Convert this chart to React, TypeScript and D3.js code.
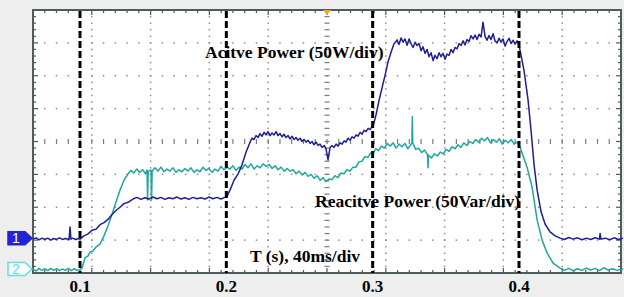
import React, { useEffect, useRef } from 'react';
import * as d3 from 'd3';

// time in ms, level in screen divisions (0 = bottom of the scope grid, 8 = top)
const activePower: [number, number][] = [
  [68, 1.03], [70, 1.07], [72, 1.01], [74, 1.06], [76, 1.02], [78, 1.06], [80, 1.0], [82, 1.05],
  [84, 1.02], [86, 1.07], [88, 1.02], [90, 1.05], [92.5, 1.02], [93.2, 1.4], [93.8, 1.03], [95, 1.06],
  [97, 1.02], [99, 1.05], [100, 1.03], [102.7, 1.13], [105.5, 1.19], [108.2, 1.3], [110.9, 1.33],
  [113.7, 1.47], [116.4, 1.53], [119.1, 1.63], [121.9, 1.78], [124.6, 1.9], [127.3, 2.0], [130.1, 2.11],
  [132.8, 2.15], [136.2, 2.25], [138.9, 2.3], [141.6, 2.24], [144.4, 2.29], [147.1, 2.25], [149.8, 2.31],
  [152.6, 2.26], [155.3, 2.3], [158, 2.24], [160.8, 2.29], [163.5, 2.26], [166.2, 2.31], [169, 2.25],
  [171.7, 2.29], [174.4, 2.24], [177.2, 2.3], [179.9, 2.26], [182.6, 2.29], [185.4, 2.25], [188.1, 2.31],
  [190.8, 2.26], [193.6, 2.3], [196.3, 2.25], [199, 2.3], [200.5, 2.34], [202.5, 2.52], [205.3, 2.83],
  [208, 3.01], [210.7, 3.29], [213.5, 3.68], [216.2, 3.98], [217.6, 4.1], [218.9, 4.06], [220.3, 4.18],
  [221.7, 4.12], [223, 4.24], [224.4, 4.16], [225.8, 4.28], [227.1, 4.2], [228.5, 4.3], [229.9, 4.18],
  [231.2, 4.26], [232.6, 4.2], [234, 4.3], [235.3, 4.18], [236.7, 4.24], [238.1, 4.14], [239.4, 4.22],
  [240.8, 4.12], [242.2, 4.18], [243.5, 4.08], [244.9, 4.16], [246.3, 4.06], [247.6, 4.12], [249, 4.04],
  [250.4, 4.1], [251.7, 4.0], [253.1, 4.06], [254.5, 3.98], [255.8, 4.04], [257.2, 3.94], [258.6, 4.0],
  [259.9, 3.9], [261.3, 3.98], [262.7, 3.88], [264, 3.92], [265.4, 3.82], [266.8, 3.88], [268.1, 3.78],
  [269.5, 3.44], [270.9, 3.82], [272.2, 3.88], [273.6, 3.82], [275, 3.92], [276.4, 3.86], [277.7, 3.96],
  [279.1, 3.92], [280.5, 4.02], [281.8, 3.98], [283.2, 4.1], [284.6, 4.04], [285.9, 4.14], [287.3, 4.1],
  [288.7, 4.2], [290, 4.16], [291.4, 4.28], [292.8, 4.22], [294.1, 4.34], [295.5, 4.3], [296.9, 4.4],
  [298.2, 4.36], [299.6, 4.46], [300.3, 4.47], [302.3, 4.81], [304.4, 5.26], [306.4, 5.63], [308.5, 6.02],
  [310.5, 6.42], [312.6, 6.72], [314.6, 6.97], [316.7, 7.09], [318, 6.95], [319.4, 7.15], [320.8, 7.02],
  [322.1, 7.12], [323.5, 6.93], [324.9, 7.12], [326.2, 6.98], [327.6, 6.86], [329, 7.02], [330.3, 6.92],
  [331.7, 6.98], [333.1, 6.76], [334.4, 6.88], [335.8, 6.68], [337.2, 6.8], [338.5, 6.58], [339.9, 6.7],
  [341.3, 6.46], [342.6, 6.62], [344, 6.52], [345.4, 6.7], [346.7, 6.58], [348.1, 6.68], [349.5, 6.5],
  [350.8, 6.66], [352.2, 6.62], [353.6, 6.8], [354.9, 6.7], [356.3, 6.86], [357.7, 6.82], [359, 6.98],
  [360.4, 6.92], [361.8, 7.06], [363.1, 6.94], [364.5, 7.1], [365.9, 7.04], [367.2, 7.22], [368.6, 7.12],
  [370, 7.24], [371.3, 7.1], [372.7, 7.26], [374.1, 7.18], [375.4, 7.63], [376.8, 7.2], [378.1, 7.08],
  [379.5, 7.22], [380.9, 7.1], [382.3, 7.28], [383.6, 7.06], [385, 7.0], [386.4, 7.14], [387.7, 7.02],
  [389.1, 7.12], [390.5, 6.9], [391.8, 7.04], [393.2, 7.14], [394.6, 6.98], [396, 7.08], [397.3, 6.96],
  [398.7, 7.06], [400, 6.92], [400.7, 6.78], [403.4, 6.17], [406.2, 5.26], [408.2, 4.35], [410.3, 3.29],
  [412.4, 2.52], [415.1, 1.86], [417.8, 1.49], [421.2, 1.25], [424.7, 1.13], [428.1, 1.06], [431, 1.02],
  [434, 1.08], [437, 1.03], [440, 1.07], [443, 1.01], [446, 1.06], [449, 1.02], [452, 1.07], [455, 1.03],
  [455.4, 1.2], [456, 1.03], [459, 1.06], [462, 1.01], [465, 1.07], [468, 1.02], [471.1, 1.06],
];

const reactivePower: [number, number][] = [
  [68, 0.12], [70, 0.06], [72, 0.14], [74, 0.08], [76, 0.13], [78, 0.07], [80, 0.14], [82, 0.08],
  [84, 0.13], [86, 0.07], [88, 0.12], [90, 0.08], [92, 0.14], [94, 0.07], [96, 0.13], [98, 0.08],
  [100, 0.1], [101.4, 0.15], [103.4, 0.46], [105.5, 0.52], [106.8, 0.64], [108.9, 0.67], [110.9, 0.79],
  [113.7, 0.88], [116.4, 1.13], [119.1, 1.43], [121.9, 1.79], [124.6, 2.16], [127.3, 2.52], [130.1, 2.83],
  [132.8, 3.01], [134.8, 3.12], [136.8, 3.04], [138.8, 3.16], [140.8, 3.06], [142.8, 3.14], [144.8, 3.02],
  [145.8, 3.13], [146.2, 2.22], [146.6, 3.1], [148.5, 3.13], [148.9, 2.22], [149.3, 3.1], [151.3, 3.2],
  [153.3, 3.1], [155.3, 3.22], [157.4, 3.08], [159.4, 3.16], [161.5, 3.1], [163.5, 3.2], [165.6, 3.06],
  [167.6, 3.14], [169.7, 3.08], [171.7, 3.18], [173.8, 3.1], [175.8, 3.2], [177.9, 3.06], [179.9, 3.14],
  [182, 3.08], [184, 3.22], [186.1, 3.12], [188.1, 3.18], [190.2, 3.06], [192.2, 3.16], [194.3, 3.1],
  [196.3, 3.24], [198.4, 3.14], [200.4, 3.22], [202.5, 3.16], [204.5, 3.26], [206.6, 3.12], [208.6, 3.22],
  [210.7, 3.16], [212.7, 3.3], [214.8, 3.2], [216.8, 3.32], [219, 3.16], [221, 3.26], [223.1, 3.2],
  [225.1, 3.32], [227.2, 3.24], [229.2, 3.3], [231.3, 3.18], [233.3, 3.26], [235.4, 3.14], [237.4, 3.22],
  [239.5, 3.1], [241.5, 3.18], [243.6, 3.1], [245.6, 3.14], [247.7, 3.02], [249.7, 3.1], [251.8, 2.98],
  [253.8, 3.06], [255.9, 2.94], [257.9, 3.0], [260, 2.88], [262, 2.96], [264.1, 2.82], [266.1, 2.9],
  [268.1, 2.78], [270.1, 2.86], [272.2, 2.84], [274.2, 2.96], [276.3, 2.9], [278.3, 3.04], [280.4, 3.02],
  [282.4, 3.14], [284.5, 3.1], [286.5, 3.22], [288.6, 3.22], [290.6, 3.38], [292.7, 3.4], [294.7, 3.54],
  [296.8, 3.52], [298.8, 3.66], [300.3, 3.64], [302, 3.78], [304, 3.72], [306, 3.86], [308, 3.8],
  [310, 3.94], [312, 3.86], [314, 3.96], [316, 3.8], [318, 3.92], [320, 3.84], [322, 3.94], [324, 3.78],
  [326, 3.9], [326.8, 3.95], [327.1, 4.75], [327.4, 3.95], [329.4, 3.76], [331.4, 3.8], [333.4, 3.66],
  [335.5, 3.74], [337.5, 3.59], [337.8, 3.2], [338.1, 3.59], [340.1, 3.5], [342.1, 3.62], [344.2, 3.56],
  [346.2, 3.68], [348.2, 3.62], [350.2, 3.76], [352.2, 3.7], [354.3, 3.84], [356.3, 3.78], [358.3, 3.9],
  [360.3, 3.82], [362.3, 3.96], [364.4, 3.88], [366.4, 4.0], [368.4, 3.94], [370.4, 4.06], [372.4, 3.98],
  [374.5, 4.1], [376.5, 4.02], [378.5, 4.12], [380.5, 3.96], [382.5, 4.06], [384.6, 3.98], [386.6, 4.08],
  [388.6, 3.92], [390.6, 4.04], [392.6, 3.96], [394.7, 4.06], [396.7, 3.92], [398.7, 3.98], [400.7, 3.83],
  [405.5, 3.22], [408.9, 2.62], [412.4, 1.61], [415.8, 1.0], [419.2, 0.61], [423.3, 0.3], [428.1, 0.15],
  [431, 0.08], [434, 0.14], [437, 0.07], [440, 0.13], [443, 0.08], [446, 0.15], [449, 0.09], [452, 0.14],
  [455, 0.07], [458, 0.16], [461, 0.09], [464, 0.13], [467, 0.08], [471.1, 0.12],
];

const timeTicks = [100, 200, 300, 400];
const timeLabels = ['0.1', '0.2', '0.3', '0.4'];

const channelMarkers = [
  { label: '1', level: 1.06 },
  { label: '2', level: 0.12 },
];

const W = 624;
const H = 297;

export default function App() {
  const svgRef = useRef<SVGSVGElement>(null);

  useEffect(() => {
    if (!svgRef.current) return;
    const svg = d3.select(svgRef.current);
    svg.selectAll('*').remove();

    const left = 33, right = 621, top = 10, bottom = 273;
    const xDiv = d3.scaleLinear().domain([0, 10]).range([left, right]);
    const yDiv = d3.scaleLinear().domain([0, 8]).range([bottom, top]);
    const xTime = d3.scaleLinear().domain([100, 400]).range([80, 519]);

    svg.append('rect').attr('width', W).attr('height', H).attr('fill', '#eeeeee');
    svg.append('rect')
      .attr('x', left).attr('y', top)
      .attr('width', right - left).attr('height', bottom - top)
      .attr('fill', '#ffffff');

    const grid = svg.append('g');
    const sub = d3.range(0, 40.01, 1).map((d) => d / 5);
    const subX = d3.range(0, 50.01, 1).map((d) => d / 5);

    // dotted division lines
    d3.range(1, 10).forEach((k) => {
      if (k === 5) return;
      sub.forEach((v) => {
        grid.append('rect')
          .attr('x', xDiv(k) - 0.75).attr('y', yDiv(v) - 0.75)
          .attr('width', 1.5).attr('height', 1.5).attr('fill', '#8c8c8c');
      });
    });
    d3.range(1, 8).forEach((k) => {
      if (k === 4) return;
      subX.forEach((v) => {
        grid.append('rect')
          .attr('x', xDiv(v) - 0.75).attr('y', yDiv(k) - 0.75)
          .attr('width', 1.5).attr('height', 1.5).attr('fill', '#8c8c8c');
      });
    });

    // centre axes with minor ticks
    sub.forEach((v) => {
      grid.append('line')
        .attr('x1', xDiv(5) - 2.5).attr('x2', xDiv(5) + 2.5)
        .attr('y1', yDiv(v)).attr('y2', yDiv(v))
        .attr('stroke', '#7a7a7a').attr('stroke-width', 1.2);
    });
    subX.forEach((v) => {
      grid.append('line')
        .attr('x1', xDiv(v)).attr('x2', xDiv(v))
        .attr('y1', yDiv(4) - 2.5).attr('y2', yDiv(4) + 2.5)
        .attr('stroke', '#7a7a7a').attr('stroke-width', 1.2);
    });

    // edge ticks
    subX.forEach((v, i) => {
      const len = i % 5 === 0 ? 5 : 3;
      grid.append('line').attr('x1', xDiv(v)).attr('x2', xDiv(v))
        .attr('y1', top).attr('y2', top + len).attr('stroke', '#555').attr('stroke-width', 1.2);
      grid.append('line').attr('x1', xDiv(v)).attr('x2', xDiv(v))
        .attr('y1', bottom).attr('y2', bottom - len).attr('stroke', '#555').attr('stroke-width', 1.2);
    });
    sub.forEach((v, i) => {
      const len = i % 5 === 0 ? 5 : 3;
      grid.append('line').attr('x1', left).attr('x2', left + len)
        .attr('y1', yDiv(v)).attr('y2', yDiv(v)).attr('stroke', '#555').attr('stroke-width', 1.2);
      grid.append('line').attr('x1', right).attr('x2', right - len)
        .attr('y1', yDiv(v)).attr('y2', yDiv(v)).attr('stroke', '#555').attr('stroke-width', 1.2);
    });

    svg.append('rect')
      .attr('x', left).attr('y', top)
      .attr('width', right - left).attr('height', bottom - top)
      .attr('fill', 'none').attr('stroke', '#4f5c5c').attr('stroke-width', 2);

    // trigger marker
    svg.append('path')
      .attr('d', `M${xDiv(5) - 4},${top} L${xDiv(5) + 4},${top} L${xDiv(5)},${top + 5} Z`)
      .attr('fill', '#f5a623');

    // traces
    const line = d3.line<[number, number]>()
      .x((d) => xTime(d[0]))
      .y((d) => yDiv(d[1]));

    svg.append('path').datum(reactivePower)
      .attr('d', line).attr('fill', 'none')
      .attr('stroke', '#20a6a0').attr('stroke-width', 1.5).attr('stroke-linejoin', 'round');
    svg.append('path').datum(activePower)
      .attr('d', line).attr('fill', 'none')
      .attr('stroke', '#1e1e96').attr('stroke-width', 1.5).attr('stroke-linejoin', 'round');

    // dashed time markers
    timeTicks.forEach((t) => {
      svg.append('line')
        .attr('x1', xTime(t)).attr('x2', xTime(t))
        .attr('y1', top + 1).attr('y2', bottom)
        .attr('stroke', '#000').attr('stroke-width', 3).attr('stroke-dasharray', '7,3');
    });

    // time labels
    timeTicks.forEach((t, i) => {
      svg.append('text')
        .attr('x', xTime(t)).attr('y', 292)
        .attr('text-anchor', 'middle')
        .attr('font-family', '"Liberation Serif", "Times New Roman", serif')
        .attr('font-weight', 'bold').attr('font-size', 17)
        .text(timeLabels[i]);
    });

    const notes = [
      { text: 'Acitve Power (50W/div)', x: 205, y: 58 },
      { text: 'Reacitve Power (50Var/div)', x: 315, y: 207 },
      { text: 'T (s), 40ms/div', x: 250, y: 262 },
    ];
    notes.forEach((n) => {
      svg.append('text')
        .attr('x', n.x).attr('y', n.y)
        .attr('font-family', '"Liberation Serif", "Times New Roman", serif')
        .attr('font-weight', 'bold').attr('font-size', 17.5)
        .attr('fill', '#000')
        .text(n.text);
    });

    // channel ground markers
    channelMarkers.forEach((m, i) => {
      const y = yDiv(m.level);
      const g = svg.append('g');
      g.append('path')
        .attr('d', `M8,${y - 6.5} L25,${y - 6.5} L32,${y} L25,${y + 6.5} L8,${y + 6.5} Z`)
        .attr('fill', i === 0 ? '#2323d6' : '#ffffff')
        .attr('stroke', i === 0 ? '#2323d6' : '#5ee0e0')
        .attr('stroke-width', 1.5);
      g.append('text')
        .attr('x', 16).attr('y', y + 5)
        .attr('text-anchor', 'middle')
        .attr('font-family', 'Arial, "Liberation Sans", sans-serif')
        .attr('font-size', 14)
        .attr('fill', i === 0 ? '#ffffff' : '#5ee0e0')
        .text(m.label);
    });
  }, []);

  return (
    <div style={{ position: 'absolute', left: 0, top: 0 }}>
      <svg ref={svgRef} width={W} height={H} style={{ display: 'block' }}></svg>
    </div>
  );
}
